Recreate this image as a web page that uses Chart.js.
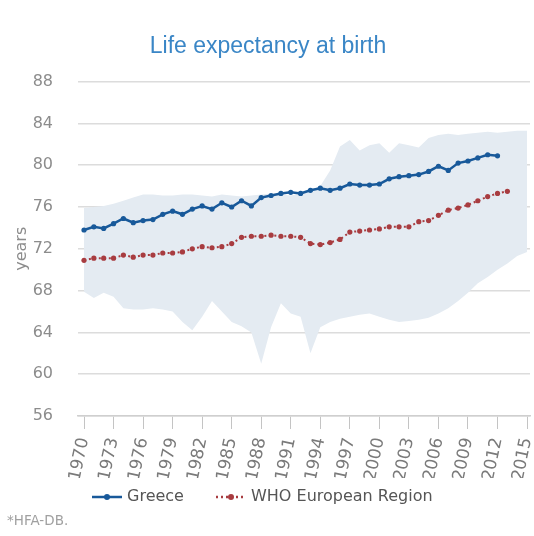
<!DOCTYPE html>
<html><head><meta charset="utf-8">
<script src="https://cdn.jsdelivr.net/npm/chart.js@4.4.1/dist/chart.umd.min.js"></script>
<style>html,body{margin:0;padding:0;background:#fff}</style>
</head><body>
<canvas id="c" width="534" height="536"></canvas>
<script>
const greeceYears = [1970,1971,1972,1973,1974,1975,1976,1977,1978,1979,1980,1981,1982,1983,1984,1985,1986,1987,1988,1989,1990,1991,1992,1993,1994,1995,1996,1997,1998,1999,2000,2001,2002,2003,2004,2005,2006,2007,2008,2009,2010,2011,2012];
const greeceValues = [73.8,74.1,73.95,74.4,74.9,74.5,74.7,74.8,75.3,75.6,75.3,75.8,76.1,75.8,76.4,76.0,76.6,76.1,76.9,77.1,77.3,77.4,77.3,77.6,77.8,77.6,77.8,78.2,78.1,78.1,78.2,78.7,78.9,79.0,79.1,79.4,79.9,79.5,80.2,80.4,80.7,81.0,80.9];
const whoYears = [1970,1971,1972,1973,1974,1975,1976,1977,1978,1979,1980,1981,1982,1983,1984,1985,1986,1987,1988,1989,1990,1991,1992,1993,1994,1995,1996,1997,1998,1999,2000,2001,2002,2003,2004,2005,2006,2007,2008,2009,2010,2011,2012,2013];
const whoValues = [70.9,71.1,71.1,71.1,71.4,71.2,71.4,71.4,71.6,71.6,71.7,72.0,72.2,72.1,72.2,72.5,73.1,73.2,73.2,73.3,73.2,73.2,73.1,72.5,72.4,72.6,72.9,73.6,73.7,73.8,73.9,74.1,74.1,74.1,74.6,74.7,75.2,75.7,75.9,76.2,76.6,77.0,77.3,77.5];
const bandYears = [1970,1971,1972,1973,1974,1975,1976,1977,1978,1979,1980,1981,1982,1983,1984,1985,1986,1987,1988,1989,1990,1991,1992,1993,1994,1995,1996,1997,1998,1999,2000,2001,2002,2003,2004,2005,2006,2007,2008,2009,2010,2011,2012,2013,2014,2015];
const bandUpper = [75.9,76.0,76.1,76.3,76.6,76.9,77.2,77.2,77.1,77.1,77.2,77.2,77.1,77.0,77.2,77.1,77.0,77.1,77.2,77.3,77.2,77.1,77.3,77.6,78.0,79.5,81.8,82.4,81.4,81.9,82.1,81.2,82.1,81.9,81.7,82.6,82.9,83.0,82.9,83.0,83.1,83.2,83.1,83.2,83.3,83.3];
const bandLower = [67.9,67.3,67.8,67.4,66.3,66.2,66.2,66.3,66.2,66.0,65.0,64.2,65.5,67.0,66.0,65.0,64.6,64.0,61.0,64.5,66.8,65.8,65.5,62.0,64.5,65.0,65.3,65.5,65.7,65.8,65.5,65.2,65.0,65.1,65.2,65.4,65.8,66.3,67.0,67.8,68.7,69.3,70.0,70.6,71.3,71.7];
const tickYears = [1970,1973,1976,1979,1982,1985,1988,1991,1994,1997,2000,2003,2006,2009,2012,2015];
const seriesNames = ['Greece','WHO European Region'];
const chartTitle = 'Life expectancy at birth';
const yTitle = 'years';
const footnote = '*HFA-DB.';

const blue = '#18599a';
const red = '#a83c40';
const bandColor = '#e4ebf2';
const textFont = '"DejaVu Sans", sans-serif';

function pts(xs, ys){ return xs.map((x,i)=>({x:x, y:ys[i]})); }

// legend + footnote drawn below the axis
const bottomText = {
  id: 'bottomText',
  afterDraw(chart) {
    const ctx = chart.ctx;
    ctx.save();
    ctx.font = '16px ' + textFont;
    ctx.textBaseline = 'middle';
    ctx.textAlign = 'left';
    const ly = 497;
    const items = [
      { x: 92, color: blue, dash: [], text: seriesNames[0] },
      { x: 216, color: red, dash: [2,3], text: seriesNames[1] }
    ];
    items.forEach(it => {
      ctx.strokeStyle = it.color; ctx.fillStyle = it.color; ctx.lineWidth = 2.5;
      ctx.setLineDash(it.dash);
      ctx.beginPath(); ctx.moveTo(it.x, ly); ctx.lineTo(it.x + 30, ly); ctx.stroke();
      ctx.setLineDash([]);
      ctx.beginPath(); ctx.arc(it.x + 15, ly, 3, 0, Math.PI * 2); ctx.fill();
      ctx.fillStyle = '#555';
      ctx.fillText(it.text, it.x + 35, ly);
    });
    ctx.font = '13.5px ' + textFont;
    ctx.fillStyle = '#a0a0a0';
    ctx.fillText(footnote, 7, 521);
    ctx.restore();
  }
};

new Chart(document.getElementById('c'), {
  type: 'line',
  data: {
    datasets: [
      { label: seriesNames[0], data: pts(greeceYears, greeceValues), borderColor: blue, backgroundColor: blue,
        borderWidth: 2.5, pointRadius: 2.6, pointHoverRadius: 2.6, pointBorderWidth: 0, order: 0, fill: false },
      { label: seriesNames[1], data: pts(whoYears, whoValues), borderColor: red, backgroundColor: red,
        borderWidth: 2, borderDash: [2,3], pointRadius: 2.6, pointHoverRadius: 2.6, pointBorderWidth: 0, order: 1, fill: false },
      { label: 'range-upper', data: pts(bandYears, bandUpper), borderWidth: 0, pointRadius: 0, backgroundColor: bandColor,
        borderColor: 'rgba(0,0,0,0)', fill: '+1', order: 5 },
      { label: 'range-lower', data: pts(bandYears, bandLower), borderWidth: 0, pointRadius: 0, backgroundColor: bandColor,
        borderColor: 'rgba(0,0,0,0)', fill: false, order: 6 }
    ]
  },
  plugins: [bottomText],
  options: {
    responsive: false,
    animation: false,
    devicePixelRatio: 1,
    layout: { padding: { left: 6, right: 4, top: 0, bottom: 58 } },
    plugins: {
      title: { display: true, text: chartTitle, color: '#3a86c6',
        font: { size: 23, family: '"Liberation Sans", Arial, sans-serif', weight: 'normal' },
        padding: { top: 33, bottom: 21 } },
      legend: { display: false },
      tooltip: { enabled: false }
    },
    scales: {
      x: { type: 'linear', min: 1969.39, max: 2015.3,
        afterBuildTicks: (axis) => { axis.ticks = tickYears.map(v => ({ value: v })); },
        afterFit: (axis) => { axis.height = 62; axis.paddingLeft = 0; axis.paddingRight = 0; },
        ticks: { autoSkip: false, minRotation: 78, maxRotation: 78, color: '#7a7a7a',
          font: { size: 17, family: textFont }, callback: (v) => String(v), padding: 7 },
        grid: { drawOnChartArea: false, drawTicks: true, tickLength: 13, color: '#c4c4c4', lineWidth: 1 },
        border: { display: true, color: '#cfcfcf', width: 1.5 } },
      y: { min: 56, max: 88,
        afterFit: (axis) => { axis.width = 72; },
        ticks: { stepSize: 4, color: '#8c8c8c', font: { size: 16, family: textFont }, padding: 25 },
        grid: { color: '#dcdcdc', lineWidth: 1.5, drawTicks: false },
        border: { display: false },
        title: { display: true, text: yTitle, color: '#8c8c8c', font: { size: 16, family: textFont },
          padding: { top: 6, bottom: 0 } } }
    }
  }
});
</script>
</body></html>
